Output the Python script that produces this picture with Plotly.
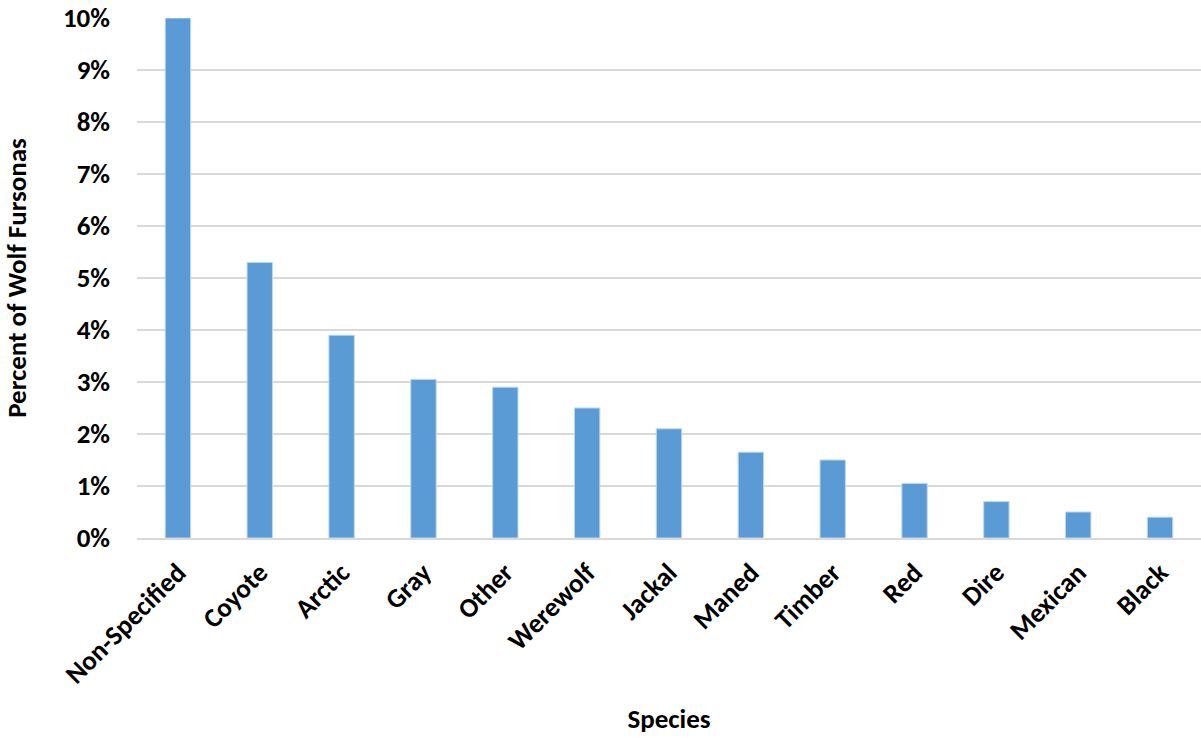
import plotly.graph_objects as go

species = ["Non-Specified", "Coyote", "Arctic", "Gray", "Other", "Werewolf", "Jackal",
           "Maned", "Timber", "Red", "Dire", "Mexican", "Black"]
percent = [10.0, 5.3, 3.9, 3.05, 2.9, 2.5, 2.1, 1.65, 1.5, 1.05, 0.7, 0.5, 0.4]
y_ticks = list(range(0, 11))
y_tick_labels = [f"{v}%" for v in y_ticks]

font_family = "Carlito, Calibri, Lato, 'Open Sans', sans-serif"

fig = go.Figure(go.Bar(
    x=species, y=percent,
    marker=dict(color="#5B9BD5", line=dict(color="#BDD7EE", width=1)),
))

fig.update_layout(
    width=1201, height=738,
    margin=dict(l=137, r=0, t=18, b=200),
    plot_bgcolor="white", paper_bgcolor="white",
    bargap=0.69,
    showlegend=False,
    font=dict(family=font_family, color="black"),
)
fig.update_xaxes(
    tickangle=-45, tickfont=dict(size=27, family=font_family, weight="bold"),
    showgrid=False, showline=True, linecolor="#D9D9D9", linewidth=2,
    ticklabelstandoff=6, automargin="bottom",
    title=dict(text="<b>Species</b>", font=dict(size=27), standoff=20),
)
fig.update_yaxes(
    range=[0, 10], tickvals=y_ticks, ticktext=y_tick_labels,
    tickfont=dict(size=27, family=font_family, weight="bold"),
    showgrid=True, gridcolor="#D9D9D9", gridwidth=2, zeroline=False,
    ticklabelstandoff=26, ticklabeloverflow="allow", automargin="left",
    title=dict(text="<b>Percent of Wolf Fursonas</b>", font=dict(size=27), standoff=33),
)

fig.write_html("out.html", config={"displayModeBar": False},
               post_script="document.body.style.margin='0';")
